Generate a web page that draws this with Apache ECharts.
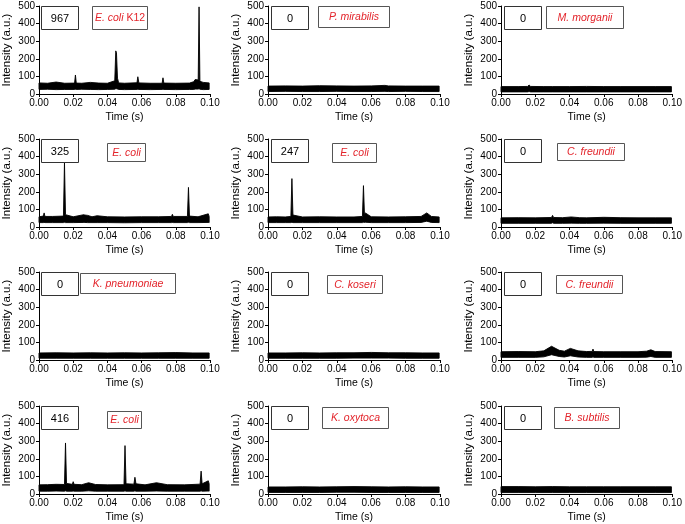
<!DOCTYPE html>
<html>
<head>
<meta charset="utf-8">
<script src="https://cdn.jsdelivr.net/npm/echarts@6/dist/echarts.min.js"></script>
<style>
html,body{margin:0;padding:0;background:#fff;}
#chart{width:685px;height:524px;}
</style>
</head>
<body>
<div id="chart"></div>
<script>
// ---------- data ----------
const xTickLabels = ['0.00', '0.02', '0.04', '0.06', '0.08', '0.10'];
const yTickLabels = ['0', '100', '200', '300', '400', '500'];

const baseTime = [0, 0.010, 0.020, 0.030, 0.040, 0.050, 0.060, 0.070, 0.080, 0.090, 0.0995];

// panel 1: E. coli K12
const time1  = [0, 0.005, 0.010, 0.015, 0.0208, 0.0213, 0.0218, 0.025, 0.030, 0.035, 0.040, 0.0443, 0.0449, 0.0453, 0.0459, 0.0466, 0.050, 0.0573, 0.0578, 0.0584, 0.065, 0.0720, 0.0725, 0.0730, 0.080, 0.088, 0.0905, 0.0913, 0.0931, 0.0936, 0.0941, 0.096, 0.0995];
const upper1 = [63, 61, 68, 61, 62, 108, 62, 61, 66, 62, 61, 75, 245, 235, 90, 63, 61, 64, 98, 63, 61, 61, 92, 62, 61, 62, 70, 82, 80, 495, 72, 66, 63];
const lower1 = [26, 27, 25, 26, 26, 27, 26, 27, 26, 25, 26, 27, 30, 30, 28, 26, 25, 26, 27, 26, 25, 26, 27, 26, 25, 26, 26, 28, 28, 30, 27, 25, 26];

// panel 2: P. mirabilis
const time2  = [0, 0.010, 0.020, 0.030, 0.040, 0.050, 0.060, 0.068, 0.070, 0.080, 0.090, 0.0995];
const upper2 = [45, 46, 45, 47, 46, 45, 46, 49, 46, 45, 45, 45];
const lower2 = [14, 15, 14, 14, 15, 14, 14, 15, 14, 15, 14, 14];

// panel 3: M. morganii
const time3  = [0, 0.010, 0.0155, 0.0164, 0.0173, 0.025, 0.030, 0.040, 0.050, 0.060, 0.070, 0.080, 0.090, 0.0995];
const upper3 = [42, 42, 43, 51, 43, 42, 42, 42, 43, 42, 42, 42, 42, 42];
const lower3 = [12, 12, 12, 14, 12, 12, 12, 12, 12, 12, 12, 12, 12, 12];

// panel 4: E. coli (325)
const time4  = [0, 0.0025, 0.003, 0.0035, 0.008, 0.0143, 0.0149, 0.0155, 0.020, 0.0262, 0.0268, 0.0285, 0.031, 0.034, 0.040, 0.050, 0.060, 0.070, 0.0775, 0.078, 0.0785, 0.0868, 0.0874, 0.0880, 0.093, 0.099, 0.0995];
const upper4 = [58, 62, 80, 60, 60, 62, 365, 70, 58, 70, 68, 66, 58, 64, 58, 57, 58, 58, 60, 72, 60, 60, 225, 62, 58, 75, 60];
const lower4 = [25, 25, 26, 25, 25, 25, 27, 25, 25, 26, 26, 25, 25, 25, 25, 24, 25, 25, 25, 26, 25, 25, 27, 25, 25, 26, 25];

// panel 5: E. coli (247)
const time5  = [0, 0.005, 0.010, 0.0133, 0.0139, 0.0145, 0.020, 0.030, 0.040, 0.050, 0.0549, 0.0555, 0.0561, 0.0566, 0.060, 0.070, 0.080, 0.089, 0.0923, 0.095, 0.0995];
const upper5 = [57, 58, 57, 60, 275, 68, 57, 58, 57, 57, 60, 235, 65, 80, 58, 57, 58, 60, 80, 60, 57];
const lower5 = [25, 25, 25, 25, 27, 25, 25, 25, 25, 25, 25, 27, 26, 27, 25, 25, 25, 26, 33, 26, 25];

// panel 6: C. freundii (row 2)
const time6  = [0, 0.010, 0.020, 0.0295, 0.0301, 0.0307, 0.036, 0.041, 0.046, 0.050, 0.060, 0.070, 0.080, 0.090, 0.0995];
const upper6 = [52, 53, 52, 54, 66, 54, 53, 57, 53, 52, 55, 53, 52, 52, 52];
const lower6 = [21, 21, 21, 21, 24, 21, 21, 22, 21, 21, 22, 21, 21, 21, 21];

// panel 7: K. pneumoniae
const upper7 = [40, 41, 40, 41, 40, 41, 40, 41, 42, 40, 40];
const lower7 = [10, 10, 10, 10, 10, 10, 10, 10, 10, 10, 10];

// panel 8: C. koseri
const upper8 = [40, 40, 41, 40, 41, 41, 43, 41, 41, 40, 40];
const lower8 = [10, 10, 10, 10, 10, 11, 11, 11, 10, 10, 10];

// panel 9: C. freundii (row 3)
const time9  = [0, 0.010, 0.020, 0.025, 0.0295, 0.034, 0.037, 0.0405, 0.045, 0.050, 0.0533, 0.0537, 0.0542, 0.060, 0.070, 0.080, 0.085, 0.0875, 0.090, 0.0995];
const upper9 = [47, 48, 47, 52, 78, 55, 50, 66, 52, 48, 49, 62, 48, 47, 47, 47, 50, 58, 48, 47];
const lower9 = [15, 15, 15, 18, 30, 20, 17, 24, 17, 15, 15, 18, 15, 15, 15, 15, 16, 20, 15, 15];

// panel 10: E. coli (416)
const time10  = [0, 0.005, 0.010, 0.0149, 0.0155, 0.0161, 0.0195, 0.020, 0.0205, 0.025, 0.029, 0.033, 0.040, 0.0497, 0.0503, 0.0509, 0.0555, 0.0561, 0.0567, 0.062, 0.0687, 0.075, 0.085, 0.0942, 0.0948, 0.0954, 0.099, 0.0995];
const upper10 = [52, 53, 55, 54, 290, 60, 55, 70, 55, 53, 64, 54, 52, 53, 275, 58, 56, 95, 58, 52, 64, 53, 52, 56, 130, 58, 75, 58];
const lower10 = [16, 16, 17, 16, 18, 16, 16, 17, 16, 16, 18, 16, 16, 16, 18, 16, 16, 18, 16, 16, 17, 16, 16, 16, 18, 16, 17, 16];

// panel 11: K. oxytoca
const upper11 = [40, 40, 41, 40, 41, 42, 41, 40, 41, 40, 40];
const lower11 = [9, 9, 9, 9, 10, 10, 9, 9, 9, 9, 9];

// panel 12: B. subtilis
const upper12 = [42, 42, 41, 42, 41, 41, 41, 41, 41, 41, 41];
const lower12 = [8, 8, 8, 8, 8, 8, 8, 8, 8, 8, 8];

const counts = ['967', '0', '0', '325', '247', '0', '0', '0', '0', '416', '0', '0'];
const species = ['E. coli', 'P. mirabilis', 'M. morganii', 'E. coli', 'E. coli', 'C. freundii',
                 'K. pneumoniae', 'C. koseri', 'C. freundii', 'E. coli', 'K. oxytoca', 'B. subtilis'];
const strain = [' K12', '', '', '', '', '', '', '', '', '', '', ''];

const panelTime  = [time1, time2, time3, time4, time5, time6, baseTime, baseTime, time9, time10, baseTime, baseTime];
const panelUpper = [upper1, upper2, upper3, upper4, upper5, upper6, upper7, upper8, upper9, upper10, upper11, upper12];
const panelLower = [lower1, lower2, lower3, lower4, lower5, lower6, lower7, lower8, lower9, lower10, lower11, lower12];

// ---------- layout ----------
const colLeft = [38, 268, 501];
const rowTop = [6, 139, 272, 406];
const gridW = 172, gridH = 88;
const countBox = [3, 0, 37, 23];
const nameBox = [
  [54, 0, 55, 23], [50, 0, 71, 21], [45, 0, 77, 22],
  [69, 4, 38, 18], [64, 4, 44, 19], [56, 4, 67, 17],
  [42, 1, 95, 20], [59, 3, 55, 18], [55, 3, 66, 18],
  [69, 5, 34, 17], [54, 1, 66, 21], [53, 1, 65, 21]
];
const FONT = '"Liberation Sans", Arial, Helvetica, sans-serif';
const RED = '#e3242b';

function bandRenderer(times, up, lo) {
  return function (params, api) {
    if (params.dataIndex !== 0) return null;
    const pts = [];
    for (let k = 0; k < times.length; k++) pts.push(api.coord([times[k], up[k]]));
    for (let k = times.length - 1; k >= 0; k--) pts.push(api.coord([times[k], lo[k]]));
    return {
      type: 'polygon',
      shape: { points: pts },
      style: { fill: '#000', stroke: '#000', lineWidth: 0.9, lineJoin: 'miter' }
    };
  };
}

const grids = [], xAxes = [], yAxes = [], series = [], graphics = [];
for (let i = 0; i < 12; i++) {
  const r = Math.floor(i / 3), c = i % 3;
  const L = colLeft[c], T = rowTop[r];
  grids.push({ left: L, top: T, width: gridW, height: gridH });
  xAxes.push({
    gridIndex: i, type: 'value', min: 0, max: 0.1, interval: 0.02,
    name: 'Time (s)', nameLocation: 'middle', nameGap: 18,
    nameTextStyle: { fontFamily: FONT, fontSize: 10.5, color: '#000' },
    axisLine: { lineStyle: { color: '#000', width: 1 } },
    axisTick: { show: true, length: 3, lineStyle: { color: '#000' } },
    axisLabel: { fontFamily: FONT, fontSize: 10, color: '#000', margin: 4,
      formatter: v => xTickLabels[Math.round(v / 0.02)] },
    splitLine: { show: false }
  });
  yAxes.push({
    gridIndex: i, type: 'value', min: 0, max: 500, interval: 100,
    name: 'Intensity (a.u.)', nameLocation: 'middle', nameGap: 26,
    nameTextStyle: { fontFamily: FONT, fontSize: 11.5, color: '#000' },
    axisLine: { show: true, lineStyle: { color: '#000', width: 1 } },
    axisTick: { show: true, length: 3, lineStyle: { color: '#000' } },
    axisLabel: { fontFamily: FONT, fontSize: 10, color: '#000', margin: 4,
      formatter: v => yTickLabels[Math.round(v / 100)] },
    splitLine: { show: false }
  });
  const t = panelTime[i], up = panelUpper[i], lo = panelLower[i];
  series.push({
    type: 'custom', xAxisIndex: i, yAxisIndex: i, silent: true,
    data: t.map((x, k) => [x, lo[k], up[k]]),
    encode: { x: 0, y: [1, 2] },
    renderItem: bandRenderer(t, up, lo)
  });
  // annotation boxes
  const cb = countBox, nb = nameBox[i];
  graphics.push({
    type: 'rect', z: 10,
    shape: { x: L + cb[0] + 0.5, y: T + cb[1] + 0.5, width: cb[2], height: cb[3] },
    style: { fill: '#fff', stroke: '#333', lineWidth: 1 }
  });
  graphics.push({
    type: 'text', z: 11,
    style: { text: counts[i], x: L + cb[0] + cb[2] / 2 + 0.5, y: T + cb[1] + cb[3] / 2 + 1,
      textAlign: 'center', textVerticalAlign: 'middle',
      fontFamily: FONT, fontSize: 11, fill: '#000' }
  });
  graphics.push({
    type: 'rect', z: 10,
    shape: { x: L + nb[0] + 0.5, y: T + nb[1] + 0.5, width: nb[2], height: nb[3] },
    style: { fill: '#fff', stroke: '#555', lineWidth: 1 }
  });
  graphics.push({
    type: 'text', z: 11,
    style: {
      text: '{i|' + species[i] + '}' + (strain[i] ? '{n|' + strain[i] + '}' : ''),
      x: L + nb[0] + nb[2] / 2 + 0.5, y: T + nb[1] + nb[3] / 2 + 1,
      textAlign: 'center', textVerticalAlign: 'middle',
      rich: {
        i: { fontFamily: FONT, fontSize: 10.5, fontStyle: 'italic', fill: RED, color: RED },
        n: { fontFamily: FONT, fontSize: 10.5, fill: RED, color: RED }
      }
    }
  });
}

const chart = echarts.init(document.getElementById('chart'), null, { renderer: 'canvas' });
chart.setOption({
  animation: false,
  backgroundColor: '#fff',
  grid: grids, xAxis: xAxes, yAxis: yAxes, series: series,
  graphic: graphics
});
</script>
</body>
</html>
